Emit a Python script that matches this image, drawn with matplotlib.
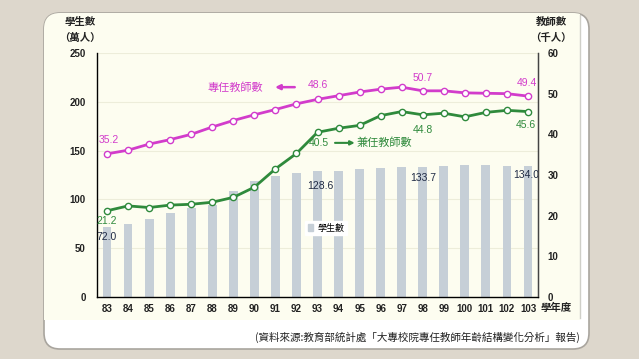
import matplotlib
matplotlib.use("Agg")
import matplotlib.pyplot as plt
import matplotlib.patches as mpatches

years = ['83', '84', '85', '86', '87', '88', '89', '90', '91', '92', '93',
         '94', '95', '96', '97', '98', '99', '100', '101', '102', '103']
students = [72.0, 75.1, 79.8, 85.7, 91.5, 94.0, 109.0, 118.5, 124.0, 126.7, 128.6,
            129.6, 130.8, 132.0, 133.5, 133.7, 134.2, 135.0, 135.1, 134.6, 134.0]
fulltime = [35.2, 36.1, 37.6, 38.7, 40.0, 41.8, 43.4, 44.8, 46.1, 47.5, 48.6,
            49.5, 50.4, 51.1, 51.6, 50.7, 50.7, 50.2, 50.1, 50.0, 49.4]
parttime = [21.2, 22.4, 22.0, 22.6, 22.8, 23.3, 24.5, 27.0, 31.5, 35.3, 40.5,
            41.5, 42.2, 44.6, 45.6, 44.8, 45.2, 44.3, 45.4, 45.9, 45.6]

# which points get a value label, and pixel offsets (dx, dy) for them
full_labels = {0: (2, 9), 10: (0, 9), 15: (0, 8), 20: (-1, 8)}
part_labels = {0: (0, -5), 10: (1, -6), 15: (0, -10), 20: (-2, -8)}
stud_labels = {0: (0, -5), 10: (3, -10), 15: (0, -6), 20: (-2, -4)}

CJK = ['Noto Sans CJK TC', 'DejaVu Sans']
NUM = ['Liberation Sans Narrow', 'Liberation Sans']
bar_c = '#C6CFD7'
mag = '#D23CCB'
grn = '#2F8A3C'
ink = '#222222'

fig = plt.figure(figsize=(6.39, 3.59), dpi=100)
fig.patch.set_facecolor('#DDD7CC')

# card background in pixel coordinates
bg = fig.add_axes([0, 0, 1, 1], zorder=0)
bg.set_xlim(0, 639)
bg.set_ylim(359, 0)
bg.axis('off')
card = mpatches.FancyBboxPatch((44, 13), 545, 336, boxstyle='round,pad=0,rounding_size=16',
                               facecolor='white', edgecolor='#A9A59E', linewidth=1.2)
bg.add_patch(card)
yellow = mpatches.Rectangle((44, 13), 536, 307, facecolor='#FDFDF0', edgecolor='none')
bg.add_patch(yellow)
yellow.set_clip_path(card)
bg.plot([580, 580], [15, 318], color='#CFCFC8', lw=1)

bg.text(80, 22, '學生數', family=CJK, fontsize=7.5, fontweight='bold', color=ink,
        ha='center', va='center')
bg.text(80, 38, '（萬人）', family=CJK, fontsize=7.5, fontweight='bold', color=ink,
        ha='center', va='center')
bg.text(551, 22, '教師數', family=CJK, fontsize=7.5, fontweight='bold', color=ink,
        ha='center', va='center')
bg.text(551, 38, '（千人）', family=CJK, fontsize=7.5, fontweight='bold', color=ink,
        ha='center', va='center')
bg.text(556, 308, '學年度', family=CJK, fontsize=7.5, fontweight='bold', color=ink,
        ha='center', va='center')
bg.text(580, 337, '(資料來源:教育部統計處「大專校院專任教師年齡結構變化分析」報告)',
        family=CJK, fontsize=7.6, color=ink, ha='right', va='center')

# chart
ax = fig.add_axes([97 / 639, 1 - 297 / 359, 441 / 639, 244 / 359], zorder=1)
ax.set_facecolor('none')
x = list(range(len(years)))
ax.bar(x, students, width=0.42, color=bar_c, zorder=2)
ax.set_xlim(-0.475, len(years) - 0.525)
ax.set_ylim(0, 250)
ax.set_yticks(range(0, 251, 50))
ax.set_xticks(x)
ax.set_xticklabels(years)
ax.yaxis.grid(True, color='#EDEDDA', lw=0.8, zorder=0)
ax.set_axisbelow(True)
ax.spines['top'].set_visible(False)
for s in ['left', 'bottom', 'right']:
    ax.spines[s].set_color('#444444')
    ax.spines[s].set_linewidth(1)
ax.tick_params(axis='both', length=0, labelsize=7, colors=ink)
ax.tick_params(axis='y', pad=8)
ax.tick_params(axis='x', pad=5)
for lab in ax.get_xticklabels() + ax.get_yticklabels():
    lab.set_family(NUM)
    lab.set_fontweight('bold')

for i, (dx, dy) in stud_labels.items():
    ax.annotate(f'{students[i]:.1f}', (x[i], students[i]), xytext=(dx * 0.72, dy * 0.72),
                textcoords='offset points', ha='center', va='top', fontsize=7.5,
                family=NUM, color='#1F2A44', zorder=3)

ax2 = ax.twinx()
ax2.set_ylim(0, 60)
ax2.set_yticks(range(0, 61, 10))
ax2.spines['top'].set_visible(False)
ax2.spines['right'].set_color('#444444')
ax2.tick_params(axis='y', length=0, labelsize=7, colors=ink, pad=7)
for lab in ax2.get_yticklabels():
    lab.set_family(NUM)
    lab.set_fontweight('bold')

ax2.plot(x, fulltime, color=mag, lw=2, marker='o', markersize=4.5,
         markerfacecolor='white', markeredgecolor=mag, markeredgewidth=1)
ax2.plot(x, parttime, color=grn, lw=2, marker='o', markersize=4.5,
         markerfacecolor='white', markeredgecolor=grn, markeredgewidth=1)

for i, (dx, dy) in full_labels.items():
    ax2.annotate(f'{fulltime[i]:.1f}', (x[i], fulltime[i]), xytext=(dx * 0.72, dy * 0.72),
                 textcoords='offset points', ha='center', va='bottom', fontsize=7.5,
                 family=NUM, color=mag)
for i, (dx, dy) in part_labels.items():
    ax2.annotate(f'{parttime[i]:.1f}', (x[i], parttime[i]), xytext=(dx * 0.72, dy * 0.72),
                 textcoords='offset points', ha='center', va='top', fontsize=7.5,
                 family=NUM, color=grn)

# series name callouts
ax2.annotate('', xy=(7.85, 51.6), xytext=(9.05, 51.6),
             arrowprops=dict(arrowstyle='-|>', color=mag, lw=1.8, mutation_scale=7))
ax2.text(6.1, 51.6, '專任教師數', family=CJK, fontsize=8, color=mag,
         ha='center', va='center')
ax2.annotate('', xy=(11.9, 37.9), xytext=(10.7, 37.9),
             arrowprops=dict(arrowstyle='-|>', color=grn, lw=1.5, mutation_scale=6))
ax2.text(13.2, 37.9, '兼任教師數', family=CJK, fontsize=8, color=grn,
         ha='center', va='center')

handle = mpatches.Patch(color=bar_c, label='學生數')
leg = ax2.legend(handles=[handle], loc='center', bbox_to_anchor=(0.52, 0.283),
                 frameon=True, fancybox=False, framealpha=1, edgecolor='white',
                 handlelength=0.6, handleheight=0.9, handletextpad=0.5,
                 borderpad=0.3, prop={'family': CJK, 'size': 6.5})
leg.get_frame().set_facecolor('white')

fig.savefig('out.png', dpi=100, facecolor=fig.get_facecolor())
